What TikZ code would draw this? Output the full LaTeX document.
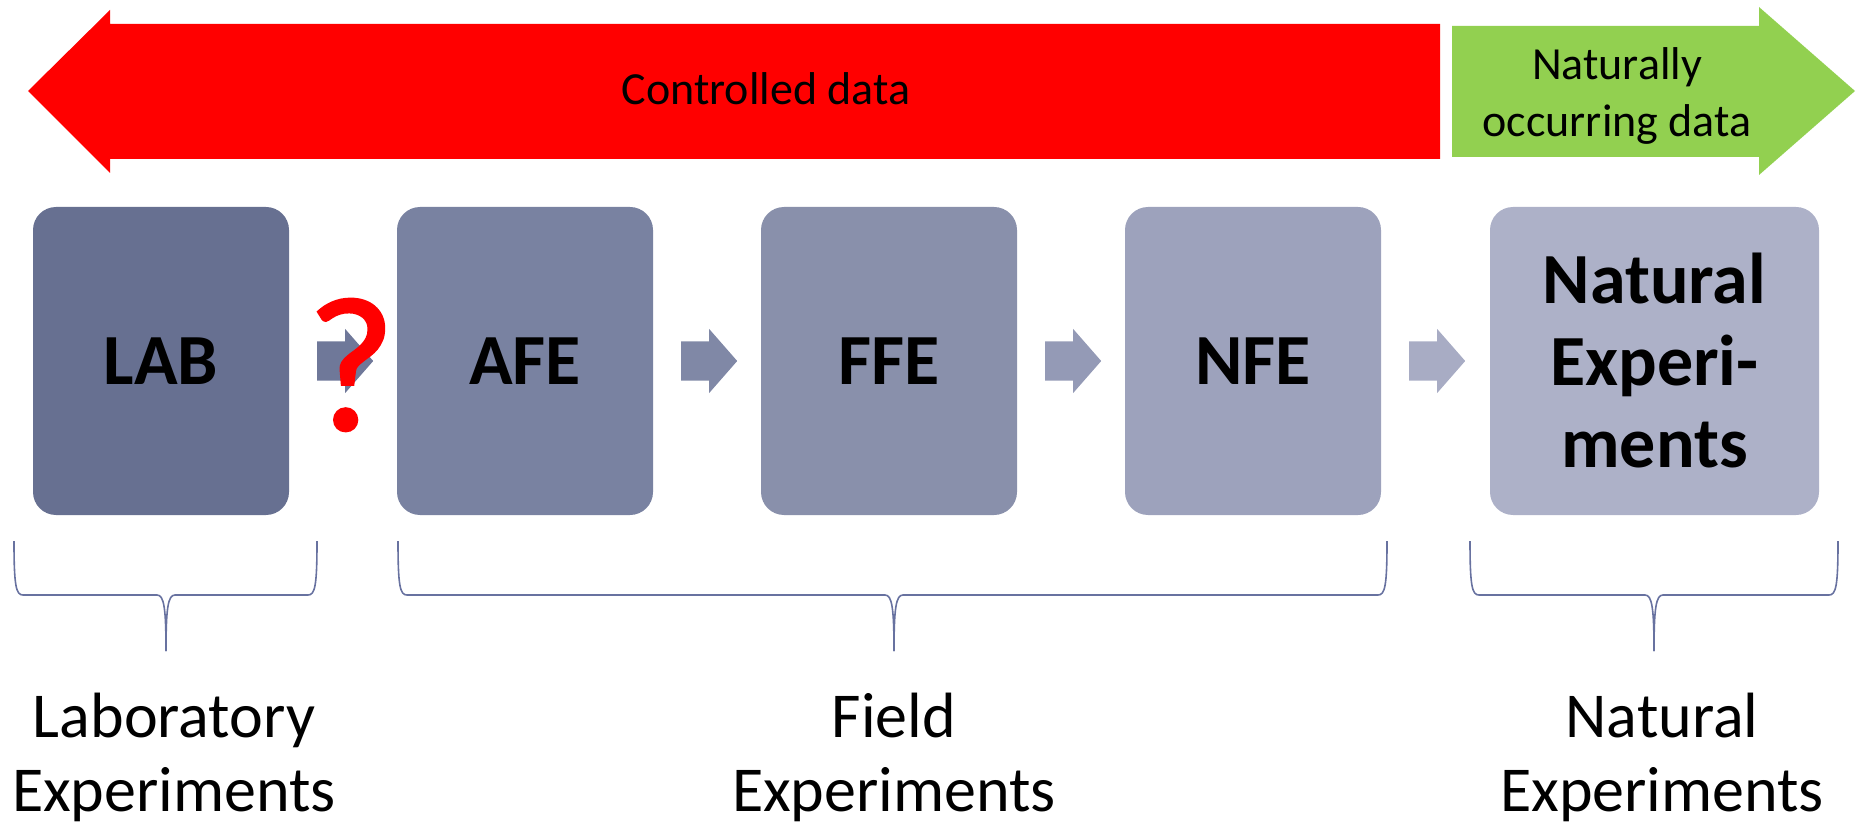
\documentclass[tikz,border=0pt]{standalone}
\usepackage{fontspec}
\setmainfont{Carlito}
\newfontfamily\doubtfont[FakeBold=1.2]{Carlito}
\usetikzlibrary{calc}

\definecolor{bandred}{RGB}{255,0,0}
\definecolor{bandgreen}{RGB}{146,208,80}
\definecolor{stageA}{RGB}{103,112,145}
\definecolor{stageB}{RGB}{121,130,161}
\definecolor{stageC}{RGB}{137,144,171}
\definecolor{stageD}{RGB}{157,162,188}
\definecolor{stageE}{RGB}{173,177,200}
\definecolor{stepA}{RGB}{111,120,153}
\definecolor{stepB}{RGB}{128,136,166}
\definecolor{stepC}{RGB}{148,154,182}
\definecolor{stepD}{RGB}{168,172,196}
\definecolor{bracecol}{RGB}{104,114,160}

% small block arrow between two stages, starting at the given point
\newcommand{\steparrow}[2]{%
  \fill[#2] ($(#1)+(0,-19.5)$) -- ++(28,0) -- ++(0,-12.5) -- ++(28,32)
    -- ++(-28,32) -- ++(0,-12.5) -- ++(-28,0) -- cycle;}

% curly bracket opening downwards: left end, right end, middle
\newcommand{\groupbrace}[3]{%
  \draw[bracecol, line width=1.6pt]
    (#1,541) .. controls (#1,586) and (#1+2,595) .. (#1+9,595)
    -- (#3-9,595) .. controls (#3-2,595) and (#3,608) .. (#3,651);
  \draw[bracecol, line width=1.6pt]
    (#2,541) .. controls (#2,586) and (#2-2,595) .. (#2-9,595)
    -- (#3+9,595) .. controls (#3+2,595) and (#3,608) .. (#3,651);}

\begin{document}
\begin{tikzpicture}[x=1pt,y=-1pt,
  stage/.style={fill=#1, rounded corners=23pt, minimum height=308pt,
    minimum width=256pt, inner sep=0pt, align=center,
    font=\fontsize{72}{82}\selectfont\bfseries},
  bandtext/.style={align=center, font=\fontsize{46}{57}\selectfont},
  grouptext/.style={align=center, anchor=base, font=\fontsize{64}{74}\selectfont}]

\useasboundingbox (0,0) rectangle (1856,826);

% data bands
\fill[bandred] (28,91) -- (110,10) -- (110,24) -- (1440,24) -- (1440,159)
  -- (110,159) -- (110,173) -- cycle;
\fill[bandgreen] (1452,26) -- (1759,26) -- (1759,7) -- (1855,91)
  -- (1759,175) -- (1759,157) -- (1452,157) -- cycle;
\node[bandtext] (ctrl) at (766,89) {Controlled data};
\node[bandtext] (natdata) at (1617,96) {Naturally\\occurring data};

% stages
\node[stage=stageA] (lab) at (161,361) {LAB};
\node[stage=stageB] (afe) at (525,361) {AFE};
\node[stage=stageC] (ffe) at (889,361) {FFE};
\node[stage=stageD] (nfe) at (1253,361) {NFE};
\node[stage=stageE, minimum width=329pt] (nat) at (1654.5,361)
  {Natural\\Experi-\\ments};

\coordinate (s1) at ($(lab.east)+(28,0)$);
\coordinate (s2) at ($(afe.east)+(28,0)$);
\coordinate (s3) at ($(ffe.east)+(28,0)$);
\coordinate (s4) at ($(nfe.east)+(28,0)$);
\steparrow{s1}{stepA}
\steparrow{s2}{stepB}
\steparrow{s3}{stepC}
\steparrow{s4}{stepD}

\node[text=bandred, font=\doubtfont\fontsize{192}{192}\selectfont, inner sep=0pt]
  (doubt) at (351,365) {?};

% groups
\groupbrace{14}{317}{166}
\groupbrace{398}{1387}{894}
\groupbrace{1470}{1838}{1654}

\node[grouptext] (glab) at (174,811) {Laboratory\\Experiments};
\node[grouptext] (gfield) at (894,811) {Field\\Experiments};
\node[grouptext] (gnat) at (1662,811) {Natural\\Experiments};
\end{tikzpicture}
\end{document}
